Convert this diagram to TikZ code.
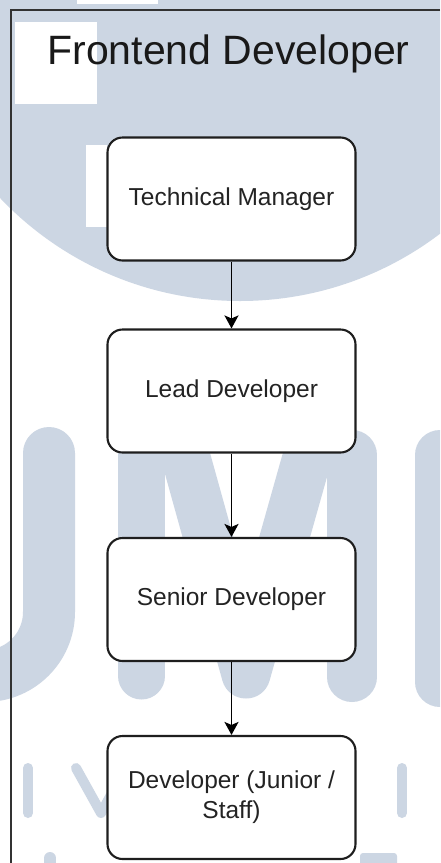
\documentclass[tikz,border=0pt]{standalone}
\usepackage{fontspec}
\setmainfont{Liberation Sans}
\usetikzlibrary{arrows.meta}
\definecolor{wm}{RGB}{204,214,227}
\definecolor{edgec}{RGB}{30,30,30}
\definecolor{textc}{RGB}{35,35,35}
\definecolor{titlec}{RGB}{25,25,25}
\definecolor{framec}{RGB}{50,50,50}
\begin{document}
\begin{tikzpicture}[x=1pt,y=-1pt,
  box/.style={draw=edgec, line width=2.1pt, fill=white, rounded corners=15pt,
    minimum width=248pt, minimum height=123pt, inner sep=0pt,
    font=\fontsize{24.5}{30}\selectfont, text=textc, align=center},
  link/.style={-{Stealth[length=13pt,width=14pt,inset=3pt]}, line width=1.8pt, draw=black},
  wmstroke/.style={draw=wm, line cap=round, line join=round},
  framel/.style={draw=framec, line width=1.3pt}]
\useasboundingbox (0,0) rectangle (440,863);
% watermark background
\begin{scope}
\clip (0,0) rectangle (440,863);
\fill[white] (0,0) rectangle (440,863);
\fill[wm] (240,-30) circle[radius=331];
\fill[white] (77,0) rectangle (158,4);
\fill[white] (15,22) rectangle (97,104);
\fill[white] (86,145) rectangle (107,227);
% U
\draw[wmstroke, line width=52pt] (49,453) -- (49,612) arc[start angle=0, end angle=90, radius=64];
% M
\draw[wmstroke, line width=47pt] (141.5,451) -- (141.5,676);
\draw[wmstroke, line width=49pt] (181,440) -- (246,674) -- (312,440);
\draw[wmstroke, line width=50pt] (352,455) -- (352,677);
% N
\draw[wmstroke, line width=50pt] (440,455) -- (440,682);
% second row letters
\draw[wmstroke, line width=10pt] (28,768) -- (28,813);
\draw[wmstroke, line width=10pt] (76,768) -- (101,813) -- (126,768);
\draw[wmstroke, line width=10pt] (402,768) -- (402,813);
% third row letters
\draw[wmstroke, line width=12pt] (50,858) -- (50,875);
\fill[wm, rounded corners=3pt] (360,853) rectangle (397,875);
\end{scope}
% frame
\draw[framel] (440,10) -- (11,10) -- (11,863);
% title
\node[font=\fontsize{41}{49}\selectfont, text=titlec, anchor=base, inner sep=0pt] (title) at (228.5,64) {Frontend Developer};
% boxes
\node[box] (tm) at (231.5,199) {Technical Manager};
\node[box] (ld) at (231.5,391) {Lead Developer};
\node[box] (sd) at (231.5,599.5) {Senior Developer};
\node[box] (dv) at (231.5,797.5) {Developer (Junior /\\Staff)};
% connectors
\draw[link] (tm) -- (ld);
\draw[link] (ld) -- (sd);
\draw[link] (sd) -- (dv);
\end{tikzpicture}
\end{document}
